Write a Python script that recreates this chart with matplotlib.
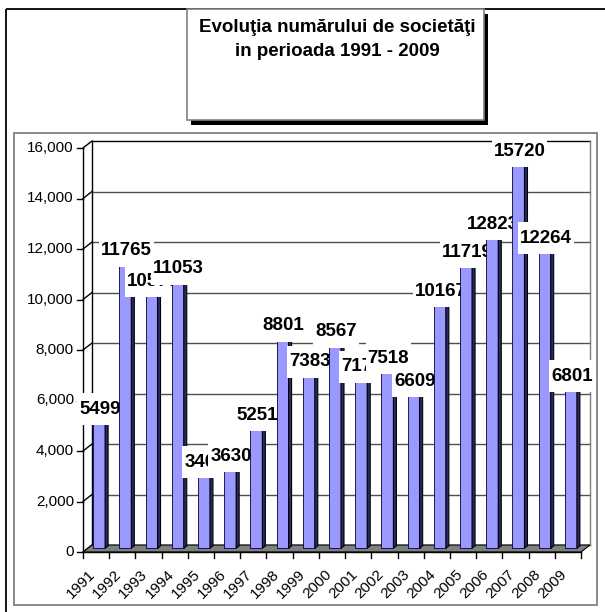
import matplotlib
matplotlib.use('Agg')
import matplotlib.pyplot as plt
import matplotlib.transforms as mtransforms
from matplotlib.patches import Rectangle, Polygon

# ---------------- data ----------------
years = [str(y) for y in range(1991, 2010)]
values = [5499, 11765, 10570, 11053, 3405, 3630, 5251, 8801, 7383, 8567,
          7175, 7518, 6609, 10167, 11719, 12823, 15720, 12264, 6801]
y_ticks = [0, 2000, 4000, 6000, 8000, 10000, 12000, 14000, 16000]
y_tick_labels = ['0', '2,000', '4,000', '6,000', '8,000', '10,000',
                 '12,000', '14,000', '16,000']
title_lines = ["Evoluţia numărului de societăţi", "in perioada 1991 - 2009"]

plt.rcParams['font.family'] = ['Liberation Sans', 'DejaVu Sans']

W, H = 605, 612
fig = plt.figure(figsize=(W / 100, H / 100), dpi=100)
fig.patch.set_facecolor('white')

# ---------------- background frames / title (pixel coords) ----------------
bg = fig.add_axes([0, 0, 1, 1])
bg.set_xlim(0, W)
bg.set_ylim(H, 0)
bg.axis('off')
bg.add_patch(Rectangle((6, 9), 604, 606, fill=False, ec='black', lw=1.3))
bg.add_patch(Rectangle((14, 133), 583, 472, fill=False, ec='#808080', lw=1.3))
bg.add_patch(Rectangle((191, 14), 297, 111, fc='black', ec='none'))
bg.add_patch(Rectangle((187, 9), 297, 111, fc='white', ec='#808080', lw=1.2))
bg.text(337, 28, title_lines[0], ha='center', va='center', fontsize=13.5,
        fontweight='bold')
bg.text(337, 51, title_lines[1], ha='center', va='center', fontsize=13.5,
        fontweight='bold')

# ---------------- chart axes (front plane) ----------------
fx0, fx1 = 83, 581
fy0, fy1 = 552, 148
ax = fig.add_axes([fx0 / W, (H - fy0) / H, (fx1 - fx0) / W, (fy0 - fy1) / H])
n = len(values)
ax.set_xlim(-0.5, n - 0.5)
ax.set_ylim(0, 16000)
ax.axis('off')

pxx = n / (fx1 - fx0)          # data units per pixel (x)
pxy = 16000 / (fy0 - fy1)      # data units per pixel (y)
BDX, BDY = 9 * pxx, 7 * pxy    # back-wall depth offset
MDX, MDY = 3 * pxx, 4 * pxy    # bar (mid-depth) offset

# back wall gridlines
for v in y_ticks:
    col = 'black' if v == y_ticks[-1] else '#505050'
    ax.plot([-0.5 + BDX, n - 0.5 + BDX], [v + BDY, v + BDY], color=col,
            lw=1.0, clip_on=False, zorder=1)
    ax.plot([-0.5, -0.5 + BDX], [v, v + BDY], color='black', lw=1.0,
            clip_on=False, zorder=1)
# wall edges
ax.plot([-0.5 + BDX, -0.5 + BDX], [BDY, 16000 + BDY], color='black', lw=1.0,
        clip_on=False, zorder=1)
ax.plot([n - 0.5 + BDX, n - 0.5 + BDX], [BDY, 16000 + BDY], color='#808080',
        lw=1.0, clip_on=False, zorder=1)
# front value axis
ax.plot([-0.5, -0.5], [0, 16000], color='black', lw=1.0, clip_on=False, zorder=2)

# floor
floor = Polygon([(-0.5, 0), (n - 0.5, 0), (n - 0.5 + BDX, BDY), (-0.5 + BDX, BDY)],
                closed=True, fc='#808080', ec='black', lw=0.8, clip_on=False, zorder=2)
ax.add_patch(floor)
# front category axis + ticks
ax.plot([-0.5, n - 0.5], [0, 0], color='black', lw=1.0, clip_on=False, zorder=3)
for k in range(n + 1):
    ax.plot([k - 0.5, k - 0.5], [0, -6 * pxy], color='black', lw=1.0,
            clip_on=False, zorder=3)
# y ticks + labels
for v, lab in zip(y_ticks, y_tick_labels):
    ax.plot([-0.5 - 6 * pxx, -0.5], [v, v], color='black', lw=1.0, clip_on=False)
    ax.text(-0.5 - 9 * pxx, v, lab, ha='right', va='center', fontsize=11)
# x tick labels
for i, lab in enumerate(years):
    ax.text(i + 2 * pxx, -15 * pxy, lab, ha='right', va='top', rotation=45,
            fontsize=11)

# bars
xs = [i + MDX for i in range(n)]
face_w = 12 * pxx
side_w = 3 * pxx
side_h = 2 * pxy
bars = ax.bar(xs, values, width=face_w, bottom=MDY, color='#9999FF',
              edgecolor='#000033', linewidth=0.6)
renderer = fig.canvas.get_renderer()
for i, (b, v) in enumerate(zip(bars, values)):
    b.set_zorder(10 + 2 * i)
    b.set_clip_on(False)
    xr = b.get_x() + b.get_width()
    side = Polygon([(xr, MDY), (xr + side_w, MDY + side_h),
                    (xr + side_w, MDY + v + side_h), (xr, MDY + v)],
                   closed=True, fc='#2a2a66', ec='black', lw=0.8,
                   clip_on=False, zorder=10 + 2 * i)
    ax.add_patch(side)
    t = ax.text(xs[i] + 1 * pxx, v + MDY, str(v), ha='center', va='center',
                fontsize=13.5, fontweight='bold', zorder=11 + 2 * i + 0.5)
    bb = t.get_window_extent(renderer)
    yc = (bb.y0 + bb.y1) / 2
    box = Rectangle((bb.x0 - 2, yc - 16), bb.width + 4, 32,
                    transform=mtransforms.IdentityTransform(), fc='white',
                    ec='none', clip_on=False, zorder=11 + 2 * i)
    ax.add_patch(box)

fig.savefig('out.png', dpi=100, facecolor='white')
